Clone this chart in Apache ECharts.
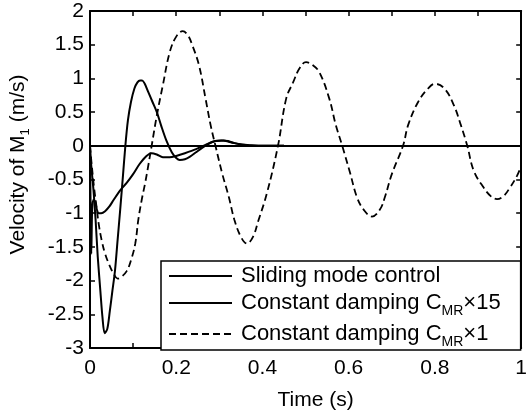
<!DOCTYPE html>
<html>
<head>
<meta charset="utf-8">
<script src="https://cdn.jsdelivr.net/npm/echarts@6/dist/echarts.min.js"></script>
<style>html,body{margin:0;padding:0;background:#fff;}#c{width:530px;height:416px;}</style>
</head>
<body>
<div id="c"></div>
<script>
// ---- data ----
var seriesNames = ['Sliding mode control', 'Constant damping C_MR×15', 'Constant damping C_MR×1'];
var xTicks = [0, 0.2, 0.4, 0.6, 0.8, 1];
var yTicks = [-3, -2.5, -2, -1.5, -1, -0.5, 0, 0.5, 1, 1.5, 2];

var tSMC = [0, 0.0015, 0.003, 0.005, 0.008, 0.012, 0.016, 0.02, 0.026, 0.035, 0.045, 0.055, 0.07, 0.085, 0.1, 0.115, 0.131, 0.143, 0.155, 0.169, 0.185, 0.2, 0.22, 0.246, 0.27, 0.291, 0.31, 0.322, 0.335, 0.352, 0.37, 0.4, 0.45];
var vSMC = [0, -1.0, -1.6, -0.95, -0.8, -0.83, -0.95, -1.0, -1.0, -0.97, -0.9, -0.8, -0.66, -0.55, -0.42, -0.27, -0.15, -0.11, -0.13, -0.17, -0.17, -0.15, -0.11, -0.05, 0.02, 0.07, 0.08, 0.06, 0.04, 0.02, 0.01, 0, 0];

var tC15 = [0, 0.003, 0.008, 0.013, 0.018, 0.024, 0.029, 0.034, 0.04, 0.046, 0.052, 0.058, 0.064, 0.07, 0.076, 0.082, 0.088, 0.095, 0.103, 0.11, 0.116, 0.121, 0.127, 0.135, 0.145, 0.155, 0.165, 0.177, 0.19, 0.2, 0.208, 0.22, 0.232, 0.245, 0.26, 0.275, 0.29, 0.305, 0.32, 0.335, 0.35, 0.365, 0.38, 0.4, 0.45];
var vC15 = [0, -0.3, -0.65, -1.1, -1.65, -2.15, -2.55, -2.78, -2.72, -2.45, -2.15, -1.85, -1.4, -0.95, -0.48, 0, 0.38, 0.65, 0.85, 0.94, 0.97, 0.97, 0.92, 0.8, 0.65, 0.5, 0.3, 0.08, -0.1, -0.18, -0.21, -0.2, -0.16, -0.1, -0.03, 0.03, 0.07, 0.08, 0.07, 0.04, 0.02, 0.01, 0, 0, 0];

var tC1 = [0, 0.005, 0.01, 0.015, 0.02, 0.027, 0.035, 0.045, 0.055, 0.064, 0.072, 0.085, 0.095, 0.105, 0.112, 0.12, 0.128, 0.135, 0.143, 0.155, 0.169, 0.185, 0.2, 0.215, 0.227, 0.238, 0.253, 0.268, 0.28, 0.291, 0.307, 0.322, 0.335, 0.35, 0.364, 0.378, 0.39, 0.41, 0.436, 0.455, 0.471, 0.486, 0.501, 0.516, 0.532, 0.555, 0.57, 0.585, 0.604, 0.619, 0.635, 0.654, 0.672, 0.684, 0.7, 0.726, 0.738, 0.761, 0.784, 0.8, 0.822, 0.844, 0.86, 0.875, 0.89, 0.913, 0.93, 0.944, 0.96, 0.974, 0.99, 1.0];
var vC1 = [0, -0.35, -0.65, -0.9, -1.15, -1.4, -1.6, -1.77, -1.9, -1.97, -1.95, -1.86, -1.7, -1.45, -1.1, -0.8, -0.55, -0.3, 0, 0.45, 0.9, 1.39, 1.62, 1.70, 1.64, 1.48, 1.19, 0.7, 0.3, 0, -0.42, -0.76, -1.1, -1.35, -1.45, -1.35, -1.12, -0.71, 0, 0.7, 0.94, 1.15, 1.24, 1.2, 1.09, 0.7, 0.31, 0, -0.42, -0.76, -0.95, -1.05, -0.95, -0.76, -0.42, 0, 0.31, 0.65, 0.85, 0.92, 0.85, 0.6, 0.31, 0, -0.37, -0.62, -0.75, -0.79, -0.74, -0.62, -0.45, -0.3];

function zip(t, v) { return t.map(function (x, i) { return [x, v[i]]; }); }

var FONT = 'Liberation Sans';
var chart = echarts.init(document.getElementById('c'), null, { renderer: 'canvas' });

var axisCommon = {
  type: 'value',
  axisLine: { show: true, onZero: false, lineStyle: { color: '#000', width: 2 } },
  axisTick: { show: true, inside: true, length: 5, lineStyle: { color: '#000', width: 1.5 } },
  splitLine: { show: false }
};

function legendFmt(name) {
  var i = name.indexOf('C_MR');
  if (i < 0) return '{n|' + name + '}';
  return '{n|' + name.slice(0, i) + 'C}{s|MR}{n|' + name.slice(i + 4) + '}';
}

chart.setOption({
  animation: false,
  backgroundColor: '#fff',
  grid: { left: 86, right: 7, top: 11, bottom: 63, containLabel: false },
  xAxis: [
    Object.assign({}, axisCommon, {
      position: 'bottom', min: 0, max: 1, interval: 0.1,
      axisLabel: {
        color: '#000', fontSize: 21, fontFamily: FONT, margin: 10,
        formatter: function (v) {
          var k = Math.round(v * 10);
          return (k % 2 === 0 && xTicks.indexOf(k / 10) >= 0) ? String(k / 10) : '';
        }
      },
      name: 'Time (s)', nameLocation: 'middle', nameGap: 42,
      nameTextStyle: { color: '#000', fontSize: 21, fontFamily: FONT, padding: [0, 0, 0, 20] }
    }),
    Object.assign({}, axisCommon, {
      position: 'top', min: 0, max: 1, interval: 0.1, axisLabel: { show: false }
    })
  ],
  yAxis: [
    Object.assign({}, axisCommon, {
      position: 'left', min: -3, max: 2, interval: 0.5,
      axisLabel: {
        color: '#000', fontSize: 21, fontFamily: FONT, margin: 6,
        formatter: function (v) { return yTicks.indexOf(v) >= 0 ? String(v) : ''; }
      },
      name: '{n|Velocity of M}{s|1}{n| (m/s)}', nameLocation: 'middle', nameGap: 60, nameRotate: 90,
      nameTextStyle: {
        color: '#000', fontFamily: FONT, padding: [0, 0, 0, 30],
        rich: {
          n: { fontSize: 21, lineHeight: 22, color: '#000', fontFamily: FONT, verticalAlign: 'top' },
          s: { fontSize: 13, lineHeight: 13, color: '#000', fontFamily: FONT, verticalAlign: 'top', padding: [11, 0, 0, 0] }
        }
      }
    }),
    Object.assign({}, axisCommon, {
      position: 'right', min: -3, max: 2, interval: 0.5, axisLabel: { show: false }
    })
  ],
  legend: {
    orient: 'vertical', left: 161, top: 261,
    data: seriesNames,
    itemWidth: 63, itemHeight: 14, itemGap: 5,
    padding: [4, 20, 1, 7],
    backgroundColor: '#fff', borderColor: '#000', borderWidth: 1.5, borderRadius: 0,
    itemStyle: { opacity: 0 },
    formatter: legendFmt,
    textStyle: {
      color: '#000', fontFamily: FONT, padding: [0, 0, 0, 4],
      rich: {
        n: { fontSize: 22, lineHeight: 22, color: '#000', fontFamily: FONT, verticalAlign: 'top' },
        s: { fontSize: 14, lineHeight: 14, color: '#000', fontFamily: FONT, verticalAlign: 'top', padding: [12, 0, 0, 0] }
      }
    }
  },
  series: [
    {
      name: seriesNames[0], type: 'line', data: zip(tSMC, vSMC), symbol: 'none', smooth: 0.3,
      lineStyle: { color: '#000', width: 2, type: 'solid' }, itemStyle: { color: '#000' },
      markLine: {
        silent: true, symbol: ['none', 'none'], label: { show: false },
        lineStyle: { color: '#000', width: 2, type: 'solid' },
        data: [{ yAxis: 0 }]
      }
    },
    {
      name: seriesNames[1], type: 'line', data: zip(tC15, vC15), symbol: 'none', smooth: 0.3,
      lineStyle: { color: '#000', width: 2, type: 'solid' }, itemStyle: { color: '#000' }
    },
    {
      name: seriesNames[2], type: 'line', data: zip(tC1, vC1), symbol: 'none', smooth: 0.4,
      lineStyle: { color: '#000', width: 1.8, type: [7, 4] }, itemStyle: { color: '#000' }
    }
  ]
});
</script>
</body>
</html>
